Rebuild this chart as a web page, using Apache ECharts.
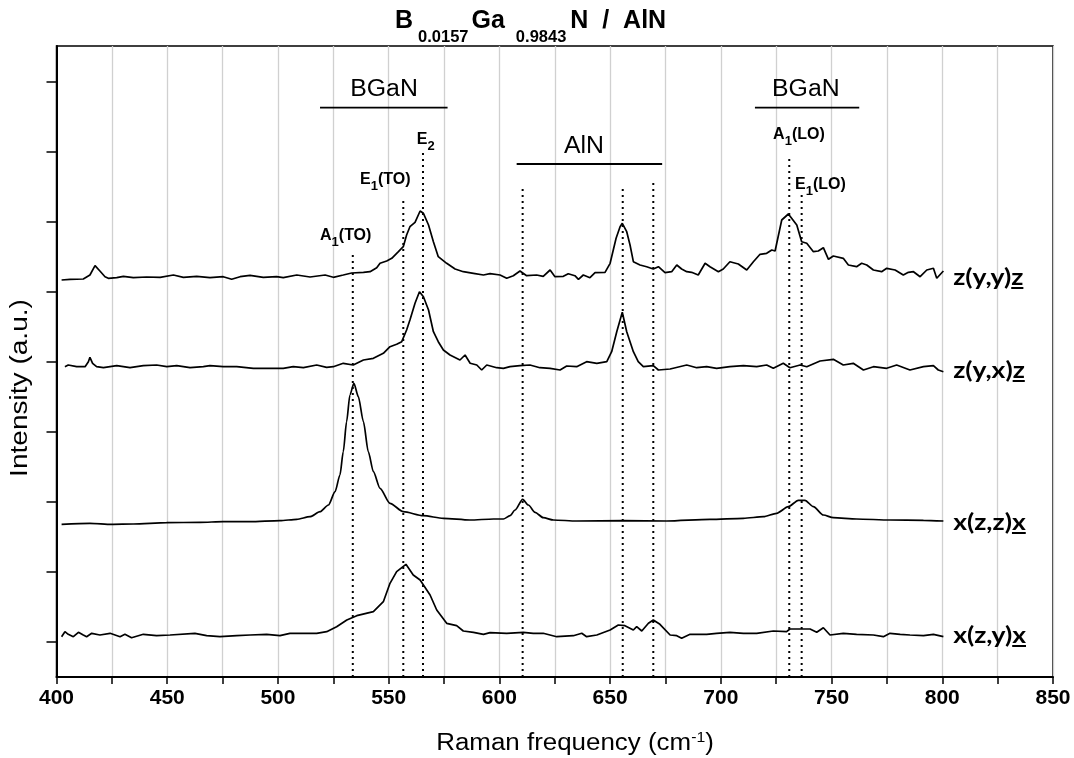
<!DOCTYPE html>
<html><head><meta charset="utf-8">
<script src="https://cdn.jsdelivr.net/npm/echarts@6/dist/echarts.min.js"></script>
<style>html,body{margin:0;padding:0;background:#fff}#c{width:1074px;height:758px}</style>
</head><body><div id="c"></div>
<script>
// ---- data (x: Raman shift cm^-1, y: intensity, arbitrary offset units) ----
const zyy = [[402.3,397],[406.1,397.7],[412.1,398],[415.1,402],[417.4,411.3],[419.6,406],[421.9,400.3],[423.4,398.7],[427.2,399.3],[430.2,400.7],[434.7,399.3],[440.7,400],[446.8,399.7],[452.8,402],[457.3,399.7],[463.3,400.7],[469.3,399.3],[475.3,400.3],[479.1,397.7],[482.9,400.3],[487.4,401.7],[493.4,399.7],[499.4,400.3],[502.4,399.3],[508.5,402],[514.5,400],[521.3,402],[525,399.7],[529.5,402],[533.3,404],[538.6,404.7],[541.6,405.3],[544.6,409.3],[546.1,413.7],[549.1,416],[551.4,418.7],[554.4,425.3],[556.6,430.3],[558.1,442],[559.6,450.3],[561.9,454.7],[564.2,466],[565.7,463.7],[568,452],[570.2,435.3],[572.4,420.3],[576.2,413.7],[580,408],[583.7,405.3],[588.3,403.7],[592.8,402],[595.8,403.3],[600.3,402],[603.3,398.7],[606.3,401.3],[609.3,406],[612.3,401.3],[616.8,402],[619.8,400.7],[622.9,407],[625.1,400.3],[628.9,400.7],[631.1,403.3],[634.1,401.3],[635.7,397.7],[637.9,402],[640.9,399.3],[643.2,404.3],[647.7,404.7],[650,413.7],[652.7,438.7],[654.5,450.3],[655.5,453.7],[657.5,445.3],[659,432],[660.5,415.3],[663.5,412],[666.5,410.3],[669.5,408],[671.8,410.3],[674.8,404.3],[677.8,405.3],[680.1,412],[682.3,408],[684.6,405.3],[686.8,404.7],[689.8,402],[692.9,413.7],[695.1,410.3],[698.9,405.3],[701.1,408],[704.1,415.3],[707.9,413],[711.7,407],[714.7,415.3],[717.7,422.7],[720.7,423.7],[723,427],[724.5,426],[727.5,457],[730.5,463],[734.3,452],[736.5,435.3],[738.8,433.7],[741.8,425.3],[744,426],[746.3,429.3],[748.6,417.7],[750.8,421],[755.3,418.7],[757.6,412],[761.3,410.3],[763.6,413.7],[765.9,412],[768.9,407],[772.6,405.3],[774.9,408.7],[778.7,407],[782.4,402],[784.7,404.7],[787,405.3],[790,400.3],[793,407],[796,408.7],[797.5,398.7],[800.5,406]];
const zyx = [[403.8,310.3],[405.3,312],[409.1,310.3],[412.9,310.3],[414.4,315.3],[415.1,319.7],[416.3,313.7],[418.1,310.3],[421.2,309.3],[427.2,311.3],[430.2,310.3],[433.2,309.3],[439.2,311.3],[445.2,312],[449.8,310.3],[454.3,311.3],[460.3,309.3],[466.3,310.3],[469.3,311.3],[475.3,310.3],[481.4,310.3],[488.9,308.7],[496.4,308.7],[502.4,308.7],[506.9,310.3],[511.5,309.3],[517.5,312],[522,309.7],[525,310.3],[529.5,313.7],[534,312],[538.6,317],[543.1,318.7],[547.6,323.7],[550.6,330.3],[553.6,332.7],[555.9,335.3],[558.1,347],[559.6,357],[561.9,373.7],[563.9,385.3],[565.7,380.3],[568,367],[570.2,345.3],[572.4,335.3],[574.7,327],[577.7,322],[582.2,317],[584.5,322],[586.8,313.7],[589.8,312],[592,307],[594.3,312],[598.8,309.3],[601.8,308.7],[604.8,310.3],[609.3,311.3],[613.8,312],[618.3,309.3],[622.9,308.7],[627.4,307],[630.4,311],[634.9,310.3],[639.4,315.3],[644,313.7],[648.5,315.3],[650.7,325.3],[653,345.3],[655.5,364.7],[657.5,345.3],[660.5,325.3],[662.7,315.3],[665,310.3],[669.5,311.3],[671.8,307],[677.1,308],[684.6,312],[689.1,309.3],[693.6,310.3],[698.1,308.7],[704.1,310.3],[710.2,311.3],[716.2,310.3],[720.7,312],[723.7,308.7],[728.2,313.7],[731.2,309.3],[735.8,312],[738.8,310.3],[744.8,316],[750.8,317.7],[755.3,312],[759.8,313.7],[764.4,307],[768.9,310.3],[774.9,308.7],[779.4,312],[785.4,307],[791.5,310.3],[796,311.3],[798.2,307],[800.5,305.3]];
const xzz = [[402.3,152.7],[415.1,153.7],[424.9,152.7],[434.7,153],[449.7,154.3],[464.8,154.7],[475.3,155.3],[487.4,155.3],[500.9,156.3],[508.5,157.7],[514.5,160.3],[519,165.3],[522.8,172],[525.8,185.3],[528,202],[529.5,225.3],[531,255.3],[532.5,282],[534.3,293.7],[536.3,280.3],[538.6,255.3],[540.8,225.3],[543.1,205.3],[546.1,188.7],[550.6,173.7],[556.6,165.3],[565.6,161.3],[574.7,158.7],[586.7,157],[597.3,158],[601.8,158],[604.8,161.3],[607.1,167],[610.5,177.7],[613.1,172],[616.1,164.7],[619.8,159.3],[624.4,157],[634.9,156],[656,156.3],[675.5,156],[695.1,157.7],[710.2,158.7],[719.2,160.3],[725.2,163.7],[730.5,170.3],[735,176.7],[738,176.7],[741.8,170.3],[746.3,162],[750.8,159.3],[761.3,158],[776.4,157],[791.5,156.7],[800.5,156]];
const xzy = [[402.3,40.3],[403.8,45.3],[405.3,42.7],[407.6,40.3],[409.9,44.7],[412.1,42],[413.6,40.3],[415.9,43.7],[419.6,42],[424.2,43.7],[428.7,40.3],[430.9,42.7],[433.9,39.3],[439.2,42.7],[445.2,41.3],[451.3,42],[462.5,43.7],[467.8,41.3],[473.8,40.3],[481.4,41.3],[487.4,42],[494.9,42.7],[500.9,41.3],[505.4,43.7],[511.5,43.7],[517.5,43.7],[522,45.3],[526.5,50.3],[531.1,57],[535.6,61.3],[543.1,65.3],[547.6,75.3],[550.6,93.7],[553.6,105.3],[557.8,112.7],[561.1,102],[564.2,97],[568.7,82],[571.7,67],[576.2,53.7],[580.7,51.3],[583.7,46],[588.3,44.7],[592.8,42.7],[595.8,44.3],[603.3,43.7],[610.8,44.7],[615.3,43.7],[619.8,43.7],[625.9,40.3],[633.4,41.3],[637.2,43.7],[639.4,40.3],[644,42],[650,47],[653.7,52],[656.7,51.3],[660.5,47],[662,50.3],[664.3,46],[667.3,53.7],[669.5,57],[672.5,52.7],[677.1,42],[680.1,41.3],[682.3,38.7],[686.1,42.7],[693.6,42.7],[698.1,43.7],[704.1,44.7],[710.2,43.7],[716.2,43.7],[723.7,46],[729.7,45.3],[731.2,48],[740.3,48],[743.3,44.7],[746.3,49.3],[749.3,42],[755.3,43.7],[761.3,42.7],[768.9,42],[773.4,40.3],[776.4,43.7],[781,42.7],[785.4,42],[791.5,41.3],[796,42.7],[800.5,40.3]];

const xTicks = [400,450,500,550,600,650,700,750,800,850];
const yTicks = [35,105,175,245,315,385,455,525,595];

// phonon mode positions (dotted lines) and their top values
const modeX   = [533.8,556.6,565.5,610.5,655.7,669.5,730.9,736.5];
const modeTop = [425,479,527,491,491,498,518,482];

// mode labels: [letter, subscript, suffix], anchored at left edge / middle
const modeLabels = [['A','1','(TO)'],['E','1','(TO)'],['E','2',''],['A','1','(LO)'],['E','1','(LO)']];
const modeLabelX = [519.0,537.1,562.7,723.6,733.5];
const modeLabelY = [440,496,536,541,491.5];

// group brackets
const groupNames = ['BGaN','AlN','BGaN'];
const groupStart = [519.0,607.8,715.4];
const groupEnd   = [576.6,673.5,762.5];
const groupBarY  = [569.3,513,569.3];
const groupTextX = [547.9,638.2,738.4];
const groupTextY = [587,530.5,587];

// spectrum labels: geometry prefix + underlined last letter
const specPrefix = ['z(y,y)','z(y,x)','x(z,z)','x(z,y)'];
const specUnder  = ['z','z','x','x'];
const specLabelY = [399,306,154,41];
const specLabelX = 804.9;

const chart = echarts.init(document.getElementById('c'), null, {renderer:'canvas'});

const series = [];
[zyy, zyx, xzz, xzy].forEach(function(d, k){
  series.push({type:'line', data:d, symbol:'none', animation:false, silent:true,
    smooth: k === 2 ? 0.25 : false, smoothMonotone: k === 2 ? 'x' : undefined,
    lineStyle:{color:'#000', width:1.7}, z:5});
});
modeX.forEach(function(x,i){
  series.push({type:'line', data:[[x,0],[x,modeTop[i]]], symbol:'none', animation:false, silent:true,
    lineStyle:{color:'#000', width:2, type:[2,4]}, z:4});
});
groupStart.forEach(function(s,i){
  series.push({type:'line', data:[[s,groupBarY[i]],[groupEnd[i],groupBarY[i]]], symbol:'none', animation:false, silent:true,
    lineStyle:{color:'#000', width:1.8}, z:4});
});

chart.setOption({
  animation:false,
  backgroundColor:'#fff',
  grid:{left:56.5, right:21, top:46, bottom:81, show:true, borderColor:'#000', borderWidth:1.5, containLabel:false},
  xAxis:{type:'value', min:400, max:850, interval:50,
    axisLine:{show:true, lineStyle:{color:'#000', width:2}},
    axisTick:{show:true, inside:false, length:7, lineStyle:{color:'#000', width:1.5}},
    minorTick:{show:true, splitNumber:2, length:7, lineStyle:{color:'#000', width:1.5}},
    splitLine:{show:true, lineStyle:{color:'#d0d0d0', width:1.3}},
    minorSplitLine:{show:true, lineStyle:{color:'#d0d0d0', width:1.3}},
    axisLabel:{show:true, margin:11, color:'#000', fontFamily:'Liberation Sans Narrow, Liberation Sans, Arial', fontWeight:'bold', fontSize:21,
      customValues:xTicks}
  },
  yAxis:{type:'value', min:0, max:631,
    axisLine:{show:true, lineStyle:{color:'#000', width:2}},
    axisTick:{show:true, inside:false, length:10, customValues:yTicks, lineStyle:{color:'#000', width:1.5}},
    axisLabel:{show:false},
    splitLine:{show:false}
  },
  series:series
});

// ---- text annotations positioned through the chart's own scales ----
const P = function(x,y){ return chart.convertToPixel({gridIndex:0},[x,y]); };
const cv = document.createElement('canvas').getContext('2d');
const graphics = [];
const SANS = '"Liberation Sans", Arial';

// title
graphics.push({type:'text', x:395, y:9, style:{
  text:'{b|B}{s|0.0157}{b|Ga}{t|0.9843}{b|N  /  AlN}', align:'left', verticalAlign:'top',
  rich:{b:{fontFamily:'Liberation Sans, Arial', fontWeight:'bold', fontSize:25, lineHeight:30, verticalAlign:'top', fill:'#000'},
        s:{fontFamily:'Liberation Sans, Arial', fontWeight:'bold', fontSize:16.5, lineHeight:16, padding:[20,3,0,5], verticalAlign:'top', fill:'#000'},
        t:{fontFamily:'Liberation Sans, Arial', fontWeight:'bold', fontSize:16.5, lineHeight:16, padding:[20,4,0,11], verticalAlign:'top', fill:'#000'}}
}});

// axis names
graphics.push({type:'text', x:575, y:742, scaleX:1.127, style:{
  text:'{n|Raman frequency (cm}{u|-1}{n|)}', align:'center', verticalAlign:'middle',
  rich:{n:{fontFamily:'Liberation Sans, Arial', fontSize:23, lineHeight:26, verticalAlign:'bottom', fill:'#000'},
        u:{fontFamily:'Liberation Sans, Arial', fontSize:14, lineHeight:26, padding:[0,0,10,0], verticalAlign:'bottom', fill:'#000'}}
}});
graphics.push({type:'text', x:21, y:388, rotation:Math.PI/2, scaleX:1.22, style:{
  text:'Intensity (a.u.)', align:'center', verticalAlign:'middle',
  font:'23px ' + SANS, fill:'#000'
}});

// group names
groupNames.forEach(function(n,i){
  const p = P(groupTextX[i], groupTextY[i]);
  graphics.push({type:'text', x:p[0], y:p[1], scaleX:1.08, style:{text:n, align:'center', verticalAlign:'middle',
    font:'23px ' + SANS, fill:'#000'}});
});

// mode labels
modeLabels.forEach(function(l,i){
  const p = P(modeLabelX[i], modeLabelY[i]);
  graphics.push({type:'text', x:p[0], y:p[1]+1, style:{
    text:'{b|'+l[0]+'}{s|'+l[1]+'}'+(l[2]?'{b|'+l[2]+'}':''), align:'left', verticalAlign:'middle',
    rich:{b:{fontFamily:'Liberation Sans, Arial', fontWeight:'bold', fontSize:16, lineHeight:20, verticalAlign:'top', fill:'#000'},
          s:{fontFamily:'Liberation Sans, Arial', fontWeight:'bold', fontSize:13, lineHeight:14, padding:[8,0,0,0], verticalAlign:'top', fill:'#000'}}
  }});
});

// spectrum labels with underlined last letter
const specFont = 'bold 23px Lato';
const specScale = 1.15;
cv.font = specFont;
specPrefix.forEach(function(pre,i){
  const p = P(specLabelX, specLabelY[i]);
  const full = pre + specUnder[i];
  const w0 = cv.measureText(pre).width * specScale, w1 = cv.measureText(full).width * specScale;
  graphics.push({type:'text', x:p[0], y:p[1], scaleX:specScale, style:{text:full, align:'left', verticalAlign:'middle', font:specFont, fill:'#000'}});
  graphics.push({type:'line', shape:{x1:p[0]+w0, y1:p[1]+10, x2:p[0]+w1, y2:p[1]+10}, style:{stroke:'#000', lineWidth:2}});
});

chart.setOption({graphic:graphics});
</script>
</body></html>
